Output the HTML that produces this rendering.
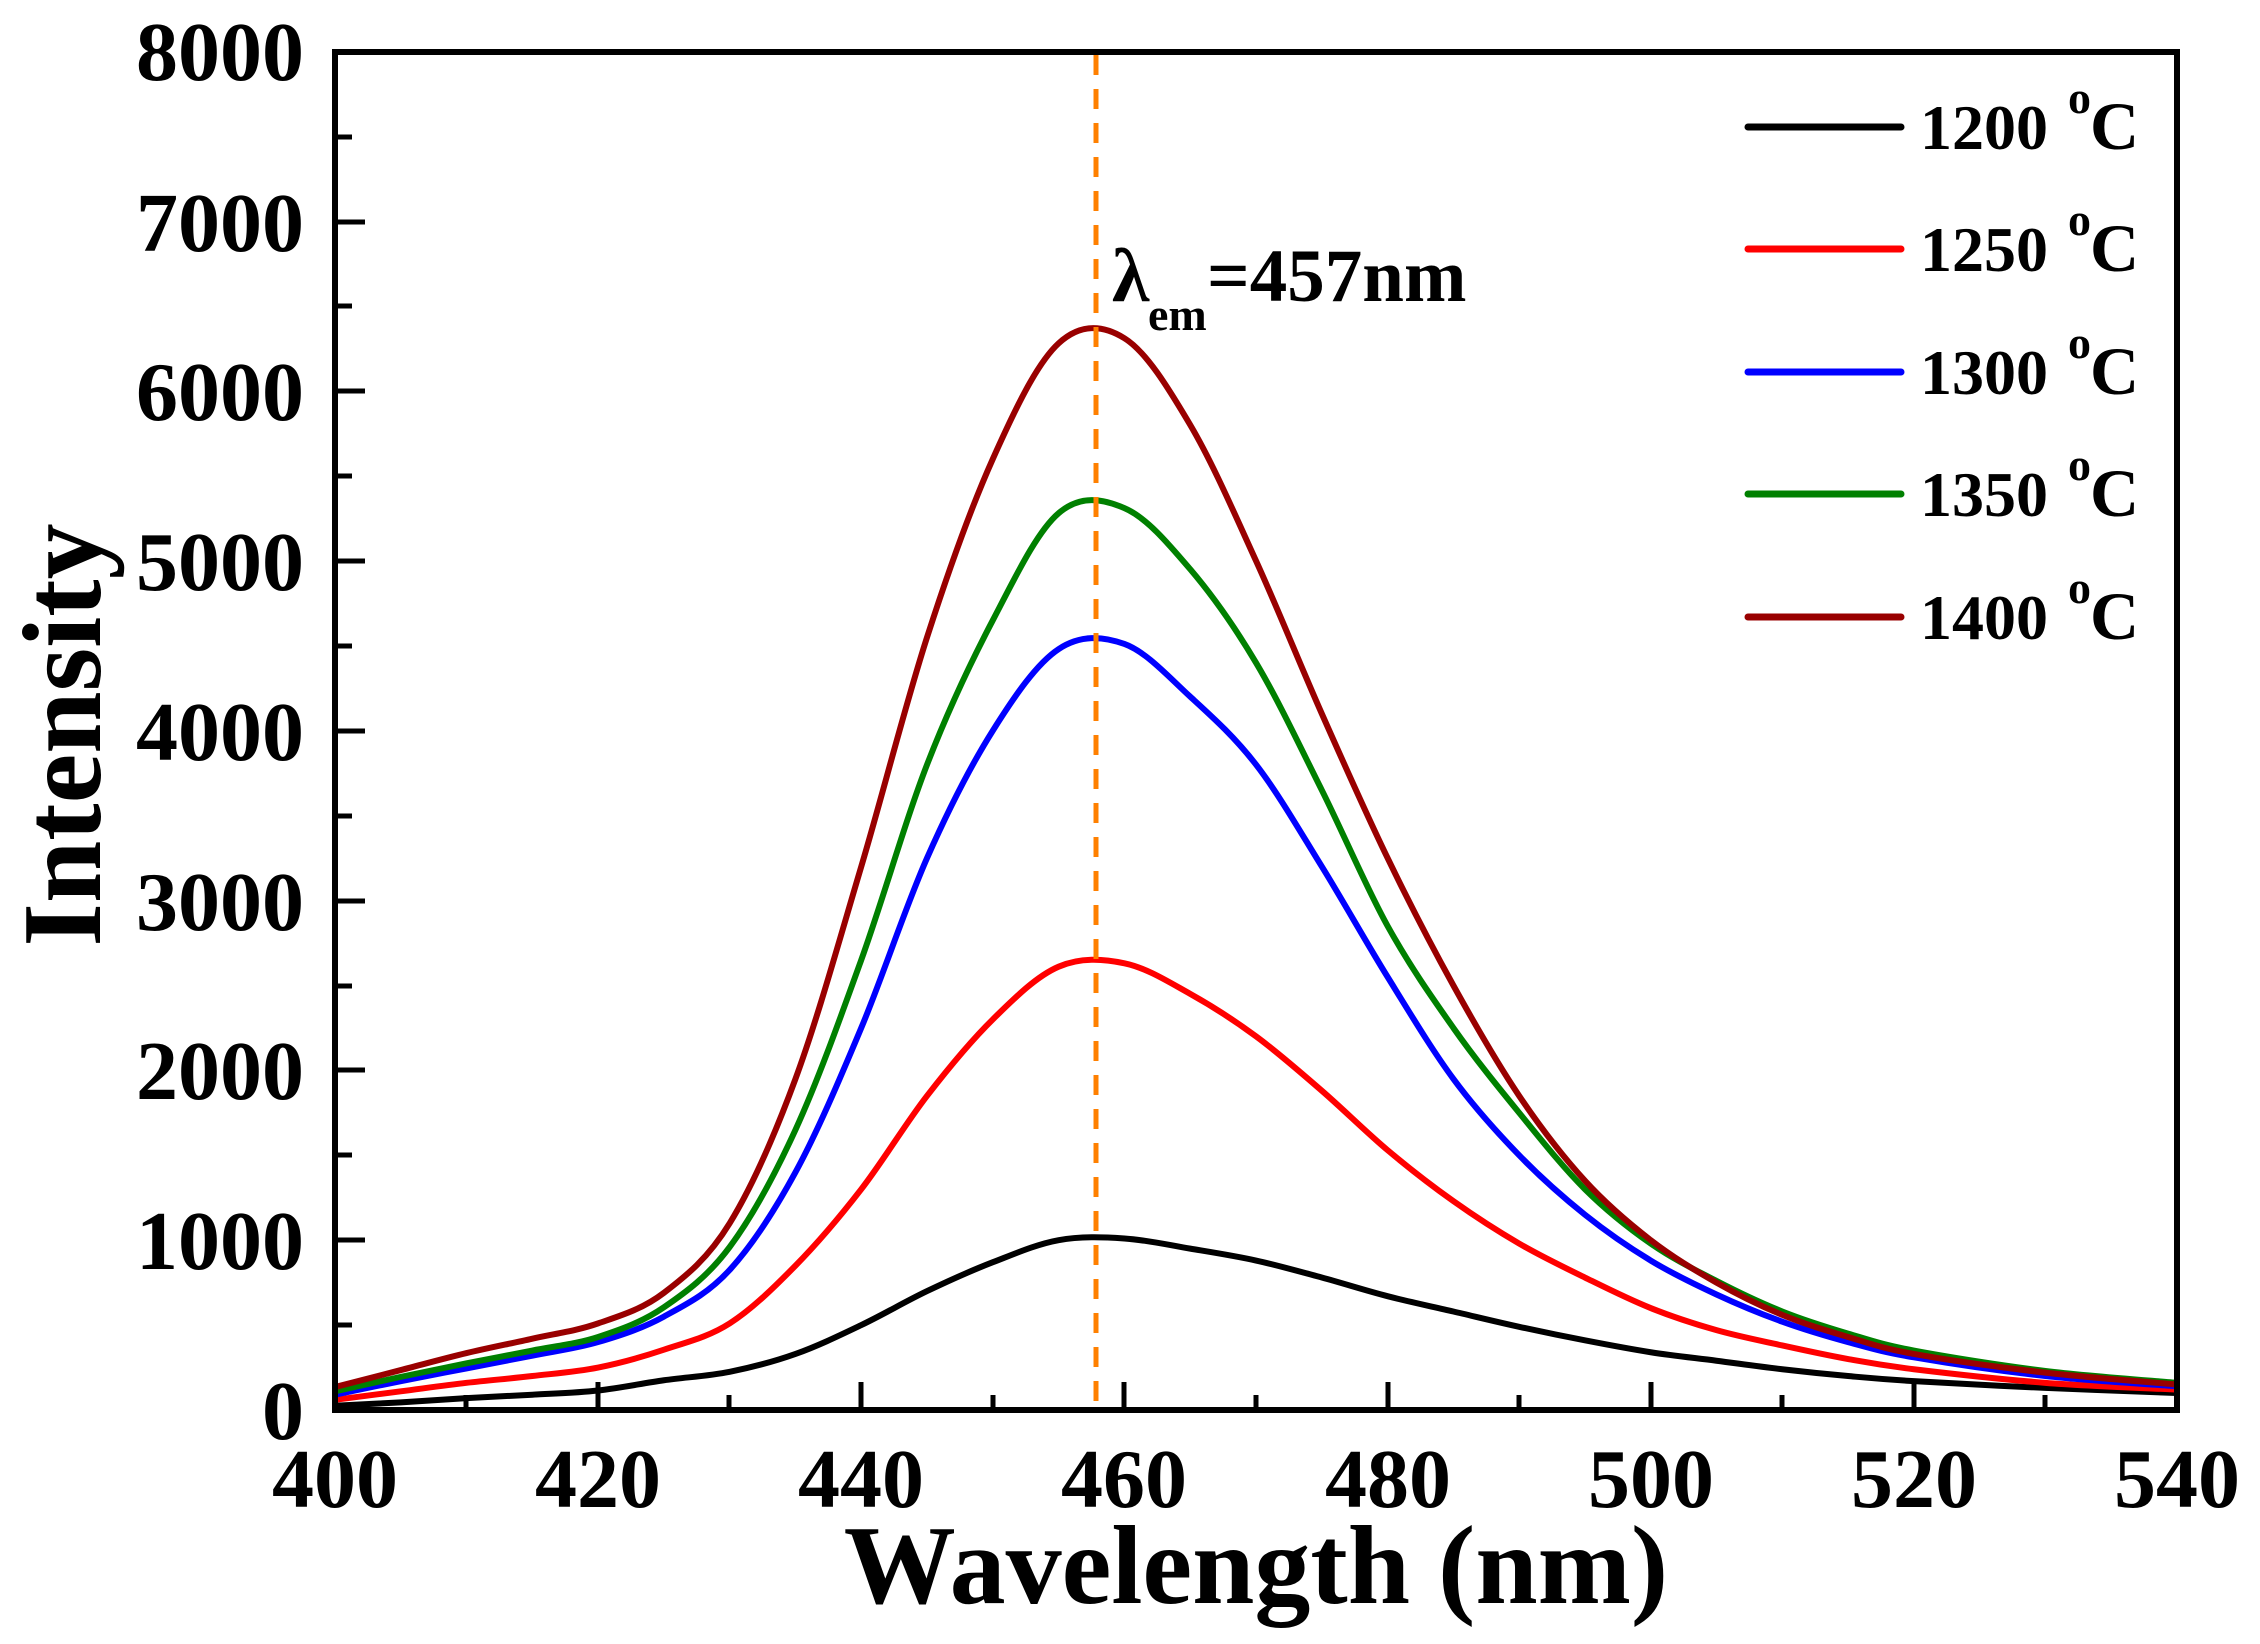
<!DOCTYPE html>
<html><head><meta charset="utf-8"><style>
html,body{margin:0;padding:0;background:#fff;}
svg{display:block;}
text{font-family:"Liberation Serif",serif;font-weight:bold;fill:#000;}
</style></head><body>
<svg id="s" width="2260" height="1644" viewBox="0 0 2260 1644" xmlns="http://www.w3.org/2000/svg">
<g id="curves" transform="translate(335,1410) scale(13.157,-0.16985) translate(-400,0)" fill="none" stroke-linejoin="round" stroke-linecap="round">
<polyline vector-effect="non-scaling-stroke" stroke="#000" stroke-width="6" points="400,25 405,45 410,70 415,90 420,115 425,175 430,225 435,330 440,500 445,700 450,870 455,1000 460,1010 465,950 470,880 475,780 480,670 485,580 490,490 495,410 500,340 505,290 510,240 515,200 520,170 530,130 540,100"/>
<polyline vector-effect="non-scaling-stroke" stroke="#ff0000" stroke-width="6" points="400,60 405,110 410,160 415,200 420,250 425,355 430,510 435,850 440,1300 445,1850 450,2300 455,2610 460,2630 465,2450 470,2200 475,1880 480,1530 485,1230 490,980 495,780 500,600 505,470 510,380 515,300 520,240 530,160 540,120"/>
<polyline vector-effect="non-scaling-stroke" stroke="#0000ff" stroke-width="6" points="400,90 405,170 410,245 415,320 420,400 425,550 430,825 435,1400 440,2250 445,3250 450,4000 455,4480 460,4510 465,4200 470,3800 475,3200 480,2550 485,1950 490,1500 495,1150 500,880 505,680 510,520 515,400 520,310 530,200 540,140"/>
<polyline vector-effect="non-scaling-stroke" stroke="#008000" stroke-width="6" points="400,110 405,195 410,275 415,350 420,430 425,605 430,960 435,1650 440,2650 445,3800 450,4650 455,5280 460,5310 465,4950 470,4400 475,3650 480,2850 485,2250 490,1750 495,1300 500,980 505,760 510,580 515,450 520,350 530,230 540,160"/>
<polyline vector-effect="non-scaling-stroke" stroke="#990000" stroke-width="6" points="400,135 405,235 410,335 415,420 420,510 425,690 430,1100 435,1950 440,3200 445,4550 450,5600 455,6280 460,6310 465,5800 470,5000 475,4100 480,3250 485,2500 490,1850 495,1350 500,1000 505,750 510,560 515,430 520,330 530,220 540,150"/>
</g>
<line x1="1096" y1="55" x2="1096" y2="1404" stroke="#ff8000" stroke-width="5" stroke-dasharray="20,14"/>
<polyline points="335,52 2177,52 2177,1410" fill="none" stroke="#000" stroke-width="6"/>
<rect x="332" y="49" width="6" height="1364" fill="#000"/>
<rect x="332" y="1407" width="1848" height="6" fill="#000"/>
<g stroke="#000" stroke-width="5">
<line x1="335" y1="1240" x2="365" y2="1240"/><line x1="335" y1="1070" x2="365" y2="1070"/><line x1="335" y1="901" x2="365" y2="901"/><line x1="335" y1="731" x2="365" y2="731"/><line x1="335" y1="561" x2="365" y2="561"/><line x1="335" y1="391" x2="365" y2="391"/><line x1="335" y1="222" x2="365" y2="222"/>
<line x1="335" y1="1325" x2="352" y2="1325"/><line x1="335" y1="1155" x2="352" y2="1155"/><line x1="335" y1="986" x2="352" y2="986"/><line x1="335" y1="816" x2="352" y2="816"/><line x1="335" y1="646" x2="352" y2="646"/><line x1="335" y1="476" x2="352" y2="476"/><line x1="335" y1="306" x2="352" y2="306"/><line x1="335" y1="137" x2="352" y2="137"/>
<line x1="598" y1="1410" x2="598" y2="1382"/><line x1="861" y1="1410" x2="861" y2="1382"/><line x1="1124" y1="1410" x2="1124" y2="1382"/><line x1="1388" y1="1410" x2="1388" y2="1382"/><line x1="1651" y1="1410" x2="1651" y2="1382"/><line x1="1914" y1="1410" x2="1914" y2="1382"/>
<line x1="466" y1="1410" x2="466" y2="1395"/><line x1="729" y1="1410" x2="729" y2="1395"/><line x1="993" y1="1410" x2="993" y2="1395"/><line x1="1256" y1="1410" x2="1256" y2="1395"/><line x1="1519" y1="1410" x2="1519" y2="1395"/><line x1="1782" y1="1410" x2="1782" y2="1395"/><line x1="2045" y1="1410" x2="2045" y2="1395"/>
</g>
<g font-size="84" text-anchor="end">
<text x="304" y="1439">0</text><text x="304" y="1269">1000</text><text x="304" y="1099">2000</text><text x="304" y="930">3000</text><text x="304" y="760">4000</text><text x="304" y="590">5000</text><text x="304" y="420">6000</text><text x="304" y="251">7000</text><text x="304" y="80">8000</text>
</g>
<g font-size="84" text-anchor="middle">
<text x="335" y="1507">400</text><text x="598" y="1507">420</text><text x="861" y="1507">440</text><text x="1124" y="1507">460</text><text x="1388" y="1507">480</text><text x="1651" y="1507">500</text><text x="1914" y="1507">520</text><text x="2177" y="1507">540</text>
</g>
<text x="1256" y="1603" font-size="112" text-anchor="middle">Wavelength (nm)</text>
<text transform="translate(100,735) rotate(-90)" font-size="112" text-anchor="middle">Intensity</text>
<text x="1112" y="301" font-size="76">λ</text>
<text x="1148" y="330" font-size="46">em</text>
<text x="1207" y="301" font-size="75">=457nm</text>
<g stroke-width="7" stroke-linecap="round">
<line x1="1748" y1="127" x2="1901" y2="127" stroke="#000"/>
<line x1="1748" y1="249" x2="1901" y2="249" stroke="#ff0000"/>
<line x1="1748" y1="372" x2="1901" y2="372" stroke="#0000ff"/>
<line x1="1748" y1="494" x2="1901" y2="494" stroke="#008000"/>
<line x1="1748" y1="617" x2="1901" y2="617" stroke="#990000"/>
</g>
<g font-size="64">
<text x="1920" y="149">1200</text><text x="1920" y="271">1250</text><text x="1920" y="394">1300</text><text x="1920" y="516">1350</text><text x="1920" y="639">1400</text>
</g>
<g font-size="68">
<text x="2090" y="149">C</text><text x="2090" y="271">C</text><text x="2090" y="394">C</text><text x="2090" y="516">C</text><text x="2090" y="639">C</text>
</g>
<g font-size="46">
<text x="2068" y="113">o</text><text x="2068" y="235">o</text><text x="2068" y="358">o</text><text x="2068" y="480">o</text><text x="2068" y="603">o</text>
</g>
</svg>
<script>
(function(){
var g=document.getElementById('curves');
var pls=g.querySelectorAll('polyline');
for(var k=0;k<pls.length;k++){
 var pl=pls[k];
 var pts=pl.getAttribute('points').trim().split(/\s+/).map(function(s){var a=s.split(',');return [+a[0],+a[1]];});
 var d='M'+pts[0][0]+','+pts[0][1];
 for(var i=0;i<pts.length-1;i++){
  var p0=pts[i-1]||pts[i],p1=pts[i],p2=pts[i+1],p3=pts[i+2]||pts[i+1];
  var c1x=p1[0]+(p2[0]-p0[0])/6,c1y=p1[1]+(p2[1]-p0[1])/6;
  var c2x=p2[0]-(p3[0]-p1[0])/6,c2y=p2[1]-(p3[1]-p1[1])/6;
  d+=' C'+c1x+','+c1y+' '+c2x+','+c2y+' '+p2[0]+','+p2[1];
 }
 var p=document.createElementNS('http://www.w3.org/2000/svg','path');
 p.setAttribute('d',d);
 p.setAttribute('stroke',pl.getAttribute('stroke'));
 p.setAttribute('stroke-width','6');
 p.setAttribute('vector-effect','non-scaling-stroke');
 g.replaceChild(p,pl);
}
})();
</script>
</body></html>
